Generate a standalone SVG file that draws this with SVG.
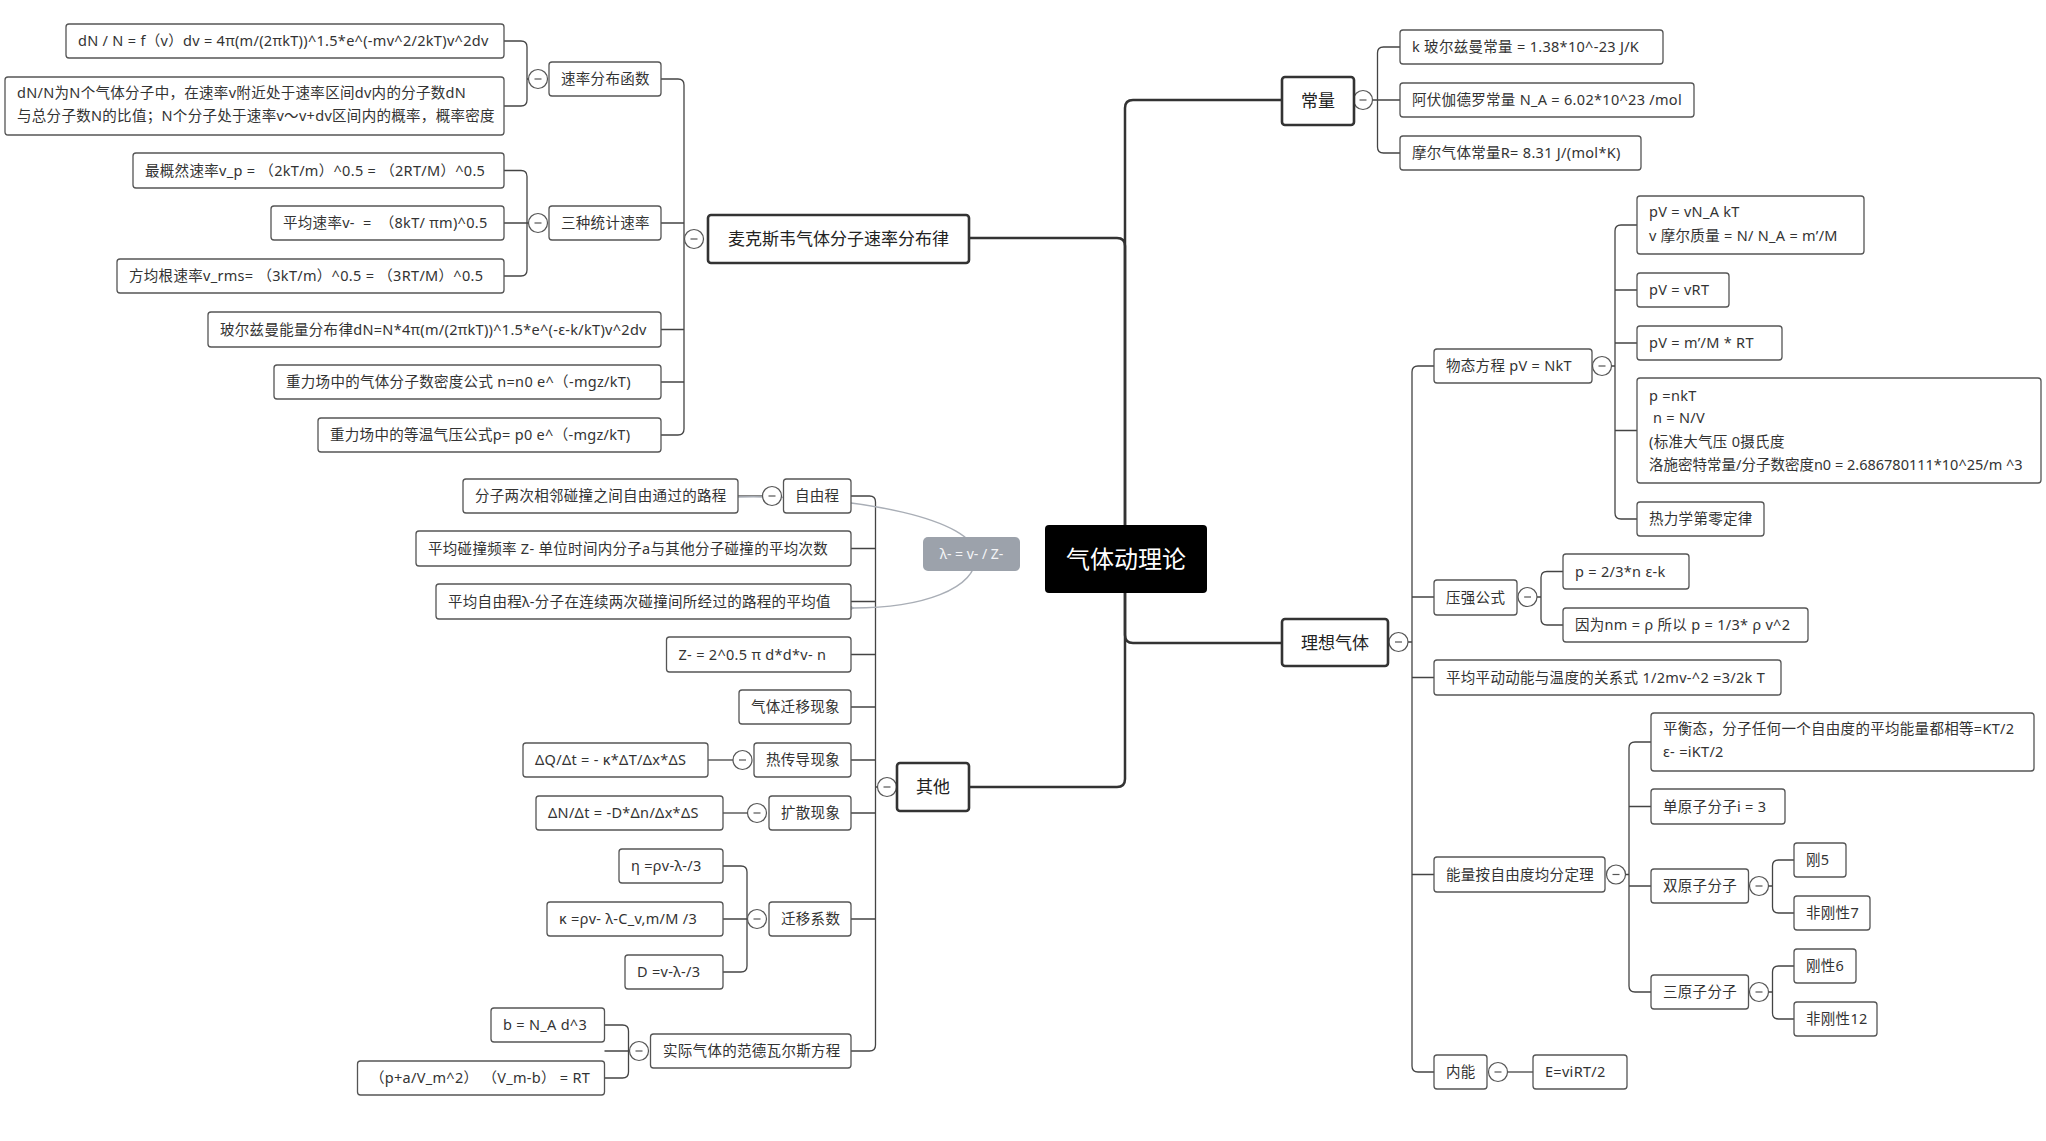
<svg xmlns="http://www.w3.org/2000/svg" xmlns:xlink="http://www.w3.org/1999/xlink" width="2046" height="1141" viewBox="0 0 2046 1141">
<style>
.bg{fill:#fff}
.leaf{fill:#fff;stroke:#555;stroke-width:1.3}
.main{fill:#fff;stroke:#333;stroke-width:2.6}
.t{font-family:"Noto Sans","Noto Sans CJK SC",sans-serif;font-size:14.5px;letter-spacing:0.3px;fill:#333}
.tm{font-family:"Noto Sans","Noto Sans CJK SC",sans-serif;font-size:17px;fill:#222;text-anchor:middle}
.c{fill:none;stroke:#444;stroke-width:1.3}
.cm{fill:none;stroke:#333;stroke-width:2.5}
.rel{fill:none;stroke:#a9aeb6;stroke-width:1.5}
.tog circle{fill:#fff;stroke:#555;stroke-width:1.2}
.tog line{stroke:#555;stroke-width:1.2}
</style>
<defs>
<g id="tog" class="tog"><circle cx="0" cy="0" r="9.5"/><line x1="-3.5" y1="0" x2="3.5" y2="0"/></g>
<marker id="arr" viewBox="0 0 12 12" refX="1" refY="6" markerWidth="12" markerHeight="12" markerUnits="userSpaceOnUse" orient="auto-start-reverse">
<path d="M9,1 L1,6 L9,11" fill="none" stroke="#a9aeb6" stroke-width="1.5"/>
</marker>
</defs>
<rect class="bg" x="0" y="0" width="2046" height="1141"/>

<g id="connectors">
<path class="cm" d="M1125,525 V108 Q1125,100 1133,100 H1282"/>
<path class="cm" d="M1125,525 V246 Q1125,238 1117,238 H969"/>
<path class="cm" d="M1125,593 V635 Q1125,643 1133,643 H1282"/>
<path class="cm" d="M1125,593 V779 Q1125,787 1117,787 H969"/>
<path class="c" d="M1372.5,100 H1400 M1400,47 H1383.5 Q1377.5,47 1377.5,53 V147 Q1377.5,153 1383.5,153 H1400"/>
<path class="c" d="M1408,642 H1412 M1434,366 H1418 Q1412,366 1412,372 V1066 Q1412,1072 1418,1072 H1434 M1412,597 H1434 M1412,677.5 H1434 M1412,874.5 H1434"/>
<path class="c" d="M1611.5,366 H1615 M1637,225 H1621 Q1615,225 1615,231 V513 Q1615,519 1621,519 H1637 M1615,290 H1637 M1615,343 H1637 M1615,430.5 H1637"/>
<path class="c" d="M1537,597 H1541 M1563,571.5 H1547 Q1541,571.5 1541,577.5 V619 Q1541,625 1547,625 H1563"/>
<path class="c" d="M1625.5,874.5 H1629 M1651,742 H1635 Q1629,742 1629,748 V986 Q1629,992 1635,992 H1651 M1629,806.5 H1651 M1629,886 H1651"/>
<path class="c" d="M1768.5,886 H1772.5 M1794,860 H1778.5 Q1772.5,860 1772.5,866 V907 Q1772.5,913 1778.5,913 H1794"/>
<path class="c" d="M1768.5,992 H1772.5 M1794,966 H1778.5 Q1772.5,966 1772.5,972 V1013 Q1772.5,1019 1778.5,1019 H1794"/>
<path class="c" d="M1507.5,1072 H1533"/>
<path class="c" d="M684.5,239 H684 M661,79 H678 Q684,79 684,85 V429 Q684,435 678,435 H661 M684,223 H661 M684,329.5 H661 M684,382 H661"/>
<path class="c" d="M528.5,79 H527 M504,41 H521 Q527,41 527,47 V100 Q527,106 521,106 H504"/>
<path class="c" d="M504,170.5 H521 Q527,170.5 527,176.5 V270 Q527,276 521,276 H504 M528.5,223 H504"/>
<path class="c" d="M877.5,787 H875.5 M851,496 H869.5 Q875.5,496 875.5,502 V1045 Q875.5,1051 869.5,1051 H851 M875.5,548.5 H851 M875.5,601.5 H851 M875.5,654.5 H851 M875.5,707 H851 M875.5,760 H851 M875.5,813 H851 M875.5,919 H851"/>
<path class="c" d="M762.5,496 H738"/>
<path class="c" d="M733,760 H708"/>
<path class="c" d="M747.5,813 H723"/>
<path class="c" d="M723,866 H741 Q747,866 747,872 V966 Q747,972 741,972 H723 M747.5,919 H723"/>
<path class="c" d="M604.5,1025 H622.5 Q628.5,1025 628.5,1031 V1072 Q628.5,1078 622.5,1078 H604.5 M629.5,1051 H604.5"/>
<path class="rel" d="M738,497 C860,495 975,520 976,555 C977,590 920,608 853,608" marker-end="url(#arr)"/>
</g>

<g id="toggles">
<use href="#tog" x="1363" y="100"/>
<use href="#tog" x="1398.5" y="642"/>
<use href="#tog" x="1602" y="366"/>
<use href="#tog" x="1527.5" y="597"/>
<use href="#tog" x="1616" y="874.5"/>
<use href="#tog" x="1759" y="886"/>
<use href="#tog" x="1759" y="992"/>
<use href="#tog" x="1498" y="1072"/>
<use href="#tog" x="694" y="239"/>
<use href="#tog" x="538" y="79"/>
<use href="#tog" x="538" y="223"/>
<use href="#tog" x="887" y="787"/>
<use href="#tog" x="772" y="496"/>
<use href="#tog" x="742.5" y="760"/>
<use href="#tog" x="757" y="813"/>
<use href="#tog" x="757" y="919"/>
<use href="#tog" x="639" y="1051"/>
</g>

<g id="n-root"><rect x="1045" y="525" width="162" height="68" rx="4" fill="#000"/><text x="1126" y="567.5" font-family="Noto Sans,Noto Sans CJK SC,sans-serif" font-size="24" fill="#fff" text-anchor="middle">气体动理论</text></g>

<g id="n-const"><rect class="main" x="1282" y="77" width="72" height="48" rx="3"/><text class="tm" x="1318" y="107">常量</text></g>
<g id="n-k1"><rect class="leaf" x="1400" y="30" width="263" height="34" rx="3"/><text class="t" x="1412" y="52">k 玻尔兹曼常量 = 1.38*10^-23 J/K</text></g>
<g id="n-k2"><rect class="leaf" x="1400" y="83" width="294" height="34" rx="3"/><text class="t" x="1412" y="105">阿伏伽德罗常量 N_A = 6.02*10^23 /mol</text></g>
<g id="n-k3"><rect class="leaf" x="1400" y="136" width="241" height="34" rx="3"/><text class="t" x="1412" y="158">摩尔气体常量R= 8.31 J/(mol*K)</text></g>

<g id="n-ideal"><rect class="main" x="1282" y="619" width="106" height="47" rx="3"/><text class="tm" x="1335" y="648.5">理想气体</text></g>
<g id="n-state"><rect class="leaf" x="1434" y="349" width="158" height="34" rx="3"/><text class="t" x="1446" y="371">物态方程 pV = NkT</text></g>
<g id="n-p1"><rect class="leaf" x="1637" y="196" width="227" height="58" rx="3"/><text class="t" x="1649" y="217">pV = vN_A kT</text><text class="t" x="1649" y="241">v 摩尔质量 = N/ N_A = m’/M</text></g>
<g id="n-p2"><rect class="leaf" x="1637" y="273" width="92" height="34" rx="3"/><text class="t" x="1649" y="295">pV = vRT</text></g>
<g id="n-p3"><rect class="leaf" x="1637" y="326" width="145" height="34" rx="3"/><text class="t" x="1649" y="348">pV = m’/M * RT</text></g>
<g id="n-p4"><rect class="leaf" x="1637" y="378" width="404" height="105" rx="3"/><text class="t" x="1649" y="401">p =nkT</text><text class="t" x="1653" y="423">n = N/V</text><text class="t" x="1649" y="447">(标准大气压 0摄氏度</text><text class="t" x="1649" y="470" style="letter-spacing:0">洛施密特常量/分子数密度n0 = 2.686780111*10^25/m ^3</text></g>
<g id="n-p5"><rect class="leaf" x="1637" y="502" width="127" height="34" rx="3"/><text class="t" x="1649" y="524">热力学第零定律</text></g>
<g id="n-press"><rect class="leaf" x="1434" y="580" width="83" height="35" rx="3"/><text class="t" x="1446" y="602.5">压强公式</text></g>
<g id="n-q1"><rect class="leaf" x="1563" y="554" width="126" height="35" rx="3"/><text class="t" x="1575" y="576.5">p = 2/3*n ε-k</text></g>
<g id="n-q2"><rect class="leaf" x="1563" y="608" width="245" height="34" rx="3"/><text class="t" x="1575" y="630">因为nm = ρ 所以 p = 1/3* ρ v^2</text></g>
<g id="n-ke"><rect class="leaf" x="1434" y="660" width="347" height="35" rx="3"/><text class="t" x="1446" y="682.5">平均平动动能与温度的关系式 1/2mv-^2 =3/2k T</text></g>
<g id="n-equi"><rect class="leaf" x="1434" y="857" width="171" height="35" rx="3"/><text class="t" x="1446" y="879.5">能量按自由度均分定理</text></g>
<g id="n-s1"><rect class="leaf" x="1651" y="713" width="383" height="58" rx="3"/><text class="t" x="1663" y="734">平衡态，分子任何一个自由度的平均能量都相等=KT/2</text><text class="t" x="1663" y="757">ε- =iKT/2</text></g>
<g id="n-s2"><rect class="leaf" x="1651" y="789" width="134" height="35" rx="3"/><text class="t" x="1663" y="811.5">单原子分子i = 3</text></g>
<g id="n-s3"><rect class="leaf" x="1651" y="869" width="97.5" height="34" rx="3"/><text class="t" x="1663" y="891">双原子分子</text></g>
<g id="n-s3a"><rect class="leaf" x="1794" y="843" width="52" height="34" rx="3"/><text class="t" x="1806" y="865">刚5</text></g>
<g id="n-s3b"><rect class="leaf" x="1794" y="896" width="76" height="34" rx="3"/><text class="t" x="1806" y="918">非刚性7</text></g>
<g id="n-s4"><rect class="leaf" x="1651" y="975" width="97.5" height="34" rx="3"/><text class="t" x="1663" y="997">三原子分子</text></g>
<g id="n-s4a"><rect class="leaf" x="1794" y="949" width="62" height="34" rx="3"/><text class="t" x="1806" y="971">刚性6</text></g>
<g id="n-s4b"><rect class="leaf" x="1794" y="1002" width="83" height="34" rx="3"/><text class="t" x="1806" y="1024">非刚性12</text></g>
<g id="n-int"><rect class="leaf" x="1434" y="1055" width="53" height="34" rx="3"/><text class="t" x="1446" y="1077">内能</text></g>
<g id="n-e1"><rect class="leaf" x="1533" y="1055" width="94" height="34" rx="3"/><text class="t" x="1545" y="1077">E=viRT/2</text></g>

<g id="n-max"><rect class="main" x="708" y="215" width="261" height="48" rx="3"/><text class="tm" x="838.5" y="245">麦克斯韦气体分子速率分布律</text></g>
<g id="n-rate"><rect class="leaf" x="549" y="62" width="112" height="34" rx="3"/><text class="t" x="561" y="84">速率分布函数</text></g>
<g id="n-a1"><rect class="leaf" x="66" y="24" width="438" height="34" rx="3"/><text class="t" x="78" y="46">dN / N = f（v）dv = 4π(m/(2πkT))^1.5*e^(-mv^2/2kT)v^2dv</text></g>
<g id="n-a2"><rect class="leaf" x="5" y="77" width="499" height="58" rx="3"/><text class="t" x="17" y="98">dN/N为N个气体分子中，在速率v附近处于速率区间dv内的分子数dN</text><text class="t" x="17" y="121">与总分子数N的比值；N个分子处于速率v～v+dv区间内的概率，概率密度</text></g>
<g id="n-three"><rect class="leaf" x="549" y="206" width="112" height="34" rx="3"/><text class="t" x="561" y="228">三种统计速率</text></g>
<g id="n-b1"><rect class="leaf" x="133" y="153" width="371" height="35" rx="3"/><text class="t" x="145" y="175.5">最概然速率v_p = （2kT/m）^0.5 = （2RT/M）^0.5</text></g>
<g id="n-b2"><rect class="leaf" x="271" y="206" width="233" height="34" rx="3"/><text class="t" x="283" y="228" xml:space="preserve">平均速率v-  =  （8kT/ πm)^0.5</text></g>
<g id="n-b3"><rect class="leaf" x="117" y="259" width="387" height="34" rx="3"/><text class="t" x="129" y="281">方均根速率v_rms= （3kT/m）^0.5 = （3RT/M）^0.5</text></g>
<g id="n-c"><rect class="leaf" x="208" y="312" width="453" height="35" rx="3"/><text class="t" x="220" y="334.5">玻尔兹曼能量分布律dN=N*4π(m/(2πkT))^1.5*e^(-ε-k/kT)v^2dv</text></g>
<g id="n-d"><rect class="leaf" x="274" y="365" width="387" height="34" rx="3"/><text class="t" x="286" y="387">重力场中的气体分子数密度公式 n=n0 e^（-mgz/kT)</text></g>
<g id="n-e"><rect class="leaf" x="318" y="418" width="343" height="34" rx="3"/><text class="t" x="330" y="440">重力场中的等温气压公式p= p0 e^（-mgz/kT)</text></g>

<g id="n-other"><rect class="main" x="897" y="763" width="72" height="48" rx="3"/><text class="tm" x="933" y="793">其他</text></g>
<g id="n-free"><rect class="leaf" x="783.5" y="479" width="67.5" height="34" rx="3"/><text class="t" x="795" y="501">自由程</text></g>
<g id="n-freec"><rect class="leaf" x="463" y="479" width="275" height="34" rx="3"/><text class="t" x="475" y="501">分子两次相邻碰撞之间自由通过的路程</text></g>
<g id="n-z"><rect class="leaf" x="416" y="531" width="435" height="35" rx="3"/><text class="t" x="428" y="553.5">平均碰撞频率 Z- 单位时间内分子a与其他分子碰撞的平均次数</text></g>
<g id="n-lam"><rect class="leaf" x="436" y="584" width="415" height="35" rx="3"/><text class="t" x="448" y="606.5">平均自由程λ-分子在连续两次碰撞间所经过的路程的平均值</text></g>
<g id="n-z2"><rect class="leaf" x="666.5" y="637" width="184.5" height="35" rx="3"/><text class="t" x="678.5" y="659.5">Z- = 2^0.5 π d*d*v- n</text></g>
<g id="n-mig"><rect class="leaf" x="739" y="690" width="112" height="34" rx="3"/><text class="t" x="751" y="712">气体迁移现象</text></g>
<g id="n-heat"><rect class="leaf" x="754" y="743" width="97" height="34" rx="3"/><text class="t" x="766" y="765">热传导现象</text></g>
<g id="n-heatc"><rect class="leaf" x="523" y="743" width="185" height="34" rx="3"/><text class="t" x="535" y="765">ΔQ/Δt = - κ*ΔT/Δx*ΔS</text></g>
<g id="n-diff"><rect class="leaf" x="769" y="796" width="82" height="34" rx="3"/><text class="t" x="781" y="818">扩散现象</text></g>
<g id="n-diffc"><rect class="leaf" x="536" y="796" width="187" height="34" rx="3"/><text class="t" x="548" y="818">ΔN/Δt = -D*Δn/Δx*ΔS</text></g>
<g id="n-coef"><rect class="leaf" x="769" y="902" width="82" height="34" rx="3"/><text class="t" x="781" y="924">迁移系数</text></g>
<g id="n-eta"><rect class="leaf" x="619" y="849" width="104" height="34" rx="3"/><text class="t" x="631" y="871">η =ρv-λ-/3</text></g>
<g id="n-kappa"><rect class="leaf" x="547" y="902" width="176" height="34" rx="3"/><text class="t" x="559" y="924">κ =ρv- λ-C_v,m/M /3</text></g>
<g id="n-dd"><rect class="leaf" x="625" y="955" width="98" height="34" rx="3"/><text class="t" x="637" y="977">D =v-λ-/3</text></g>
<g id="n-real"><rect class="leaf" x="650.5" y="1034" width="200.5" height="34" rx="3"/><text class="t" x="663" y="1056">实际气体的范德瓦尔斯方程</text></g>
<g id="n-vb"><rect class="leaf" x="491" y="1008" width="113.5" height="34" rx="3"/><text class="t" x="503" y="1030">b = N_A d^3</text></g>
<g id="n-vpa"><rect class="leaf" x="357.5" y="1061" width="247" height="34" rx="3"/><text class="t" x="370" y="1083" xml:space="preserve">（p+a/V_m^2） （V_m-b） = RT</text></g>

<g id="n-rel"><rect x="923" y="537" width="97" height="34" rx="5" fill="#9ca2ab"/><text x="971.5" y="559" font-family="Noto Sans,Noto Sans CJK SC,sans-serif" font-size="14" fill="#f4f5f7" text-anchor="middle">λ- = v- / Z-</text></g>
</svg>
